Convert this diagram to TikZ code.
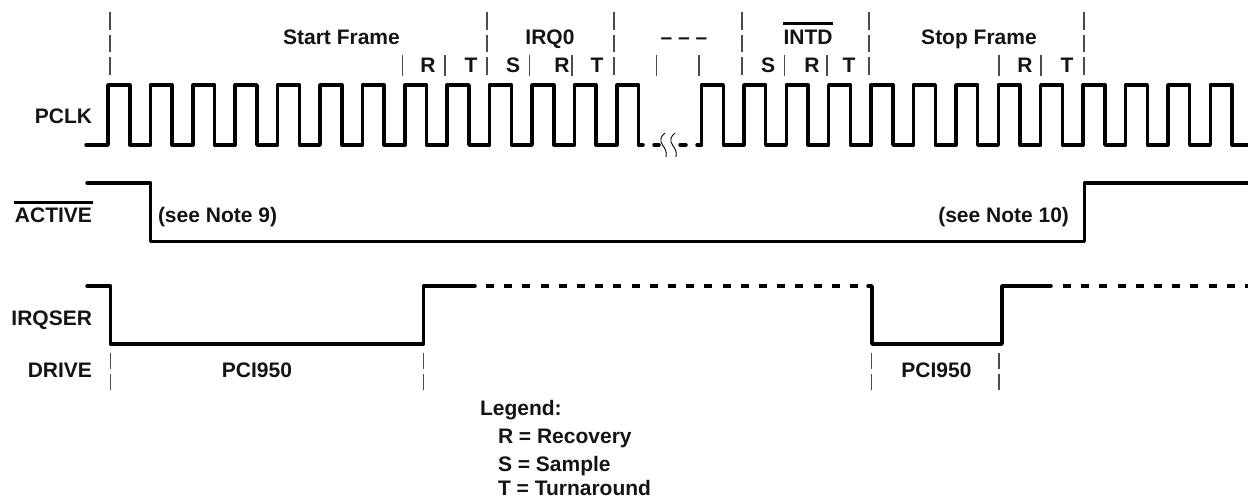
\documentclass[tikz,border=0pt]{standalone}
\usepackage{fontspec}
\setmainfont{Liberation Sans}
\begin{document}
\begin{tikzpicture}[x=1pt,y=-1pt,
  lbl/.style={inner sep=0pt,outer sep=0pt,font=\fontsize{21}{25}\selectfont\bfseries,text=black!92},
  sig/.style={line width=3.5pt,line join=round,line cap=round,black},
  dsh/.style={sig,line cap=butt,dash pattern=on 8pt off 10.2pt},
  tick/.style={line width=1.1pt,black!70},
  dtick/.style={tick,dash pattern=on 17.5pt off 5pt},
  dbtick/.style={tick,dash pattern=on 16pt off 5pt},
  bar/.style={line width=2.6pt,black},
  sq/.style={line width=0.9pt,black}]
\useasboundingbox (0,0) rectangle (1248,498);
% top labels
\node[lbl,anchor=base] (start) at (341.5,44) {Start Frame};
\node[lbl,anchor=base] (irq) at (550,44) {IRQ0};
\node[lbl,anchor=base] (dots) at (684,44) {– – –};
\node[lbl,anchor=base] (intd) at (808,44) {INTD};
\draw[bar] (783,23.5) -- (833,23.5);
\node[lbl,anchor=base] (stop) at (979,44) {Stop Frame};
\foreach \x/\t/\n in {428/R/a,471/T/b,513/S/c,562/R/d,597/T/e,768/S/f,812/R/g,849/T/h,1025/R/i,1067/T/j}
  \node[lbl,anchor=base] (m\n) at (\x,72) {\t};
% boundary ticks
\foreach \x in {110,487,614,742,869,1084}
  \draw[dtick] (\x,12) -- (\x,76);
\foreach \x in {402.5,445,529.5,572,656.5,699,784.5,827,999,1041}
  \draw[tick] (\x,55) -- (\x,76);
% PCLK
\node[lbl,anchor=base east] (pclk) at (92,123) {PCLK};
\draw[sig] (86,145)
  foreach \k in {0,...,12} {
    -- ({108+\k*42.4},145) -- ({108+\k*42.4},85) -- ({129.8+\k*42.4},85) -- ({129.8+\k*42.4},145)
  } -- (643,145);
\draw[sig] (654,145) -- (659,145);
\draw[sig] (680,145) -- (686,145);
\foreach \d in {0,10}
  \draw[sq,xshift=\d pt] (665,133) .. controls (660.5,136.5) and (659.5,141) .. (662.5,145) .. controls (665.5,149) and (667,152) .. (666,157);
\draw[sig] (697,145) -- (701.5,145)
  foreach \k in {0,...,12} {
    -- ({701.5+\k*42.4},145) -- ({701.5+\k*42.4},85) -- ({723.3+\k*42.4},85) -- ({723.3+\k*42.4},145)
  } -- (1248,145);
% ACTIVE
\node[lbl,anchor=base east] (active) at (92,222) {ACTIVE};
\draw[bar] (14,202.5) -- (93,202.5);
\draw[sig] (87,183) -- (150.5,183) -- (150.5,241.5) -- (1084.5,241.5) -- (1084.5,183) -- (1248,183);
\node[lbl,anchor=base west] (n9) at (158,222) {(see Note 9)};
\node[lbl,anchor=base east] (n10) at (1069,222) {(see Note 10)};
% IRQSER
\node[lbl,anchor=base east] (irqser) at (92,325) {IRQSER};
\node[lbl,anchor=base east] (drive) at (92,377) {DRIVE};
\draw[sig] (87,286) -- (110.5,286) -- (110.5,344) -- (423.5,344) -- (423.5,286) -- (475,286);
\draw[dsh] (486,286) -- (860,286);
\draw[sig] (868,286) -- (872,286) -- (872,344) -- (1002,344) -- (1002,286) -- (1051,286);
\draw[dsh] (1063,286) -- (1248,286);
\foreach \x in {110.5,423.5,871.5,999}
  \draw[dbtick] (\x,353) -- (\x,390);
\node[lbl,anchor=base] (p1) at (257,377) {PCI950};
\node[lbl,anchor=base] (p2) at (936.5,377) {PCI950};
% legend
\node[lbl,anchor=base west] (leg) at (480,415) {Legend:};
\node[lbl,anchor=base west] (lr) at (498,443) {R = Recovery};
\node[lbl,anchor=base west] (ls) at (498,471) {S = Sample};
\node[lbl,anchor=base west] (lt) at (498,495.5) {T = Turnaround};
\end{tikzpicture}
\end{document}
